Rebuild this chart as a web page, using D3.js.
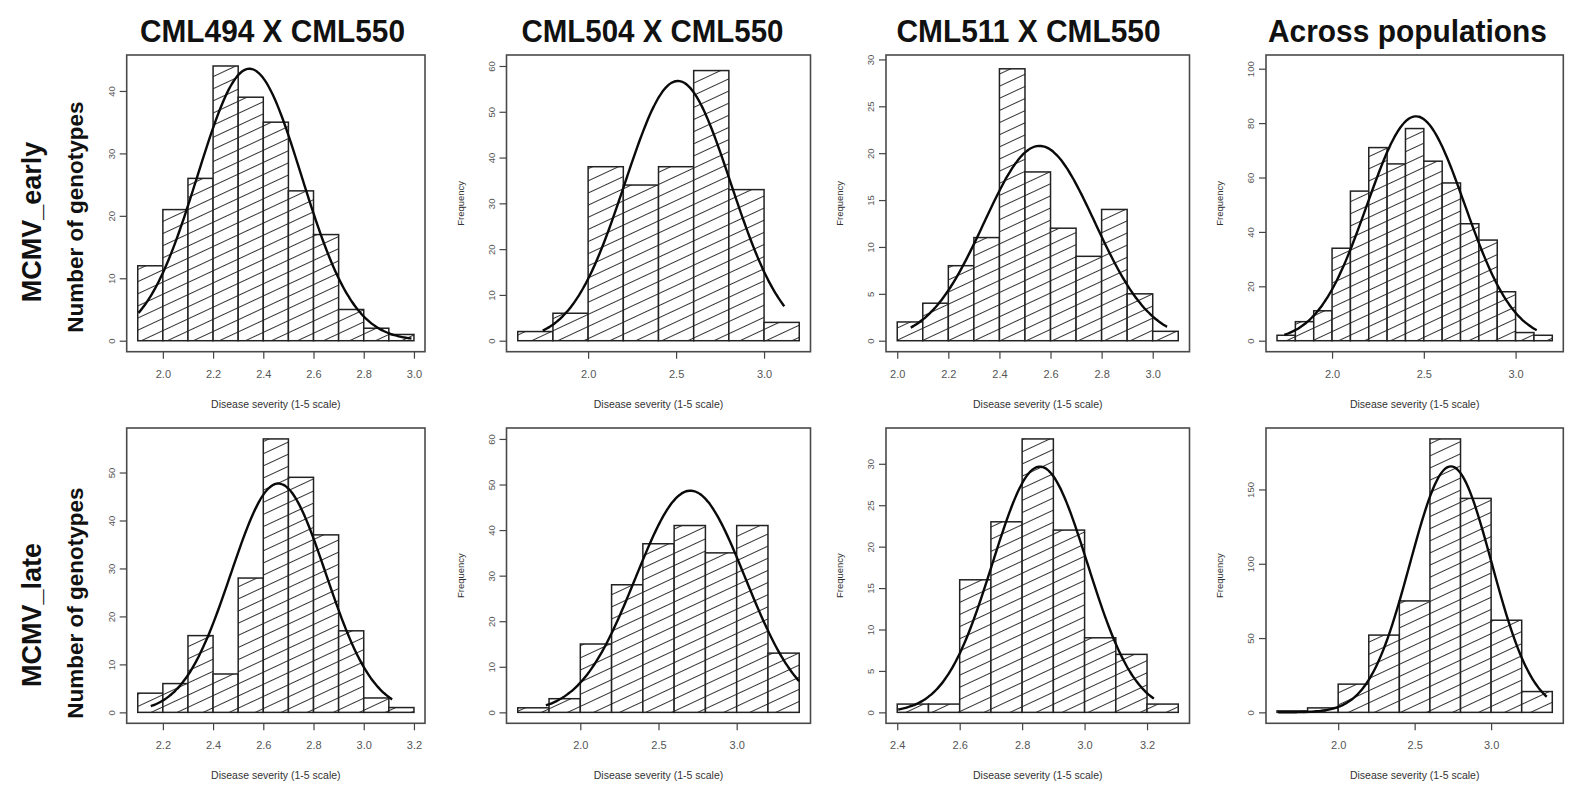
<!DOCTYPE html>
<html><head><meta charset="utf-8">
<script src="https://cdn.jsdelivr.net/npm/d3@7"></script>
<style>
body{margin:0;background:#fff}
svg{display:block}
text{font-family:"Liberation Sans",Arial,Helvetica,sans-serif}
</style>
</head><body>
<svg id="chart" width="1570" height="786"></svg>
<script>
// ---------------- DATA ----------------
const columnTitles = ["CML494 X CML550", "CML504 X CML550", "CML511 X CML550", "Across populations"];
const rowTitles = ["MCMV_early", "MCMV_late"];
const rowAxisTitle = "Number of genotypes";
const freqTitle = "Frequency";
const xAxisTitle = "Disease severity (1-5 scale)";

// histogram bins: first break and bin width per panel (row-major order)
const binStart = [1.9, 1.6, 2.0, 1.7, 2.1, 1.6, 2.4, 1.6];
const binWidth = [0.1, 0.2, 0.1, 0.1, 0.1, 0.2, 0.1, 0.2];

// counts per bin
const countsEarly494 = [12, 21, 26, 44, 39, 35, 24, 17, 5, 2, 1];
const countsEarly504 = [2, 6, 38, 34, 38, 59, 33, 4];
const countsEarly511 = [2, 4, 8, 11, 29, 18, 12, 9, 14, 5, 1];
const countsEarlyAll = [2, 7, 11, 34, 55, 71, 65, 78, 66, 58, 43, 37, 18, 3, 2];
const countsLate494  = [4, 6, 16, 8, 28, 57, 49, 37, 17, 3, 1];
const countsLate504  = [1, 3, 15, 28, 37, 41, 35, 41, 13];
const countsLate511  = [1, 1, 16, 23, 33, 22, 9, 7, 1];
const countsLateAll  = [1, 3, 19, 52, 75, 184, 144, 62, 14];

// fitted normal curve parameters
const curveMean = [2.345, 2.51, 2.557, 2.457, 2.66, 2.704, 2.857, 2.737];
const curveSd   = [0.207, 0.301, 0.217, 0.266, 0.189, 0.351, 0.152, 0.267];
const curveFrom = [1.903, 1.742, 2.053, 1.74, 2.152, 1.78, 2.403, 1.608];
const curveTo   = [2.99, 3.115, 3.056, 3.115, 3.113, 3.40, 3.222, 3.364];

// axis limits (data ranges, R style 4% padding applied later)
const xLimLo = [1.9, 1.6, 2.0, 1.7, 2.1, 1.6, 2.4, 1.6];
const xLimHi = [3.0, 3.2, 3.1, 3.2, 3.2, 3.4, 3.3, 3.4];
const yLimHi = [44, 60, 29.3, 101, 57, 60, 33, 184];

// tick values
const xTicks = [
  [2.0, 2.2, 2.4, 2.6, 2.8, 3.0], [2.0, 2.5, 3.0], [2.0, 2.2, 2.4, 2.6, 2.8, 3.0], [2.0, 2.5, 3.0],
  [2.2, 2.4, 2.6, 2.8, 3.0, 3.2], [2.0, 2.5, 3.0], [2.4, 2.6, 2.8, 3.0, 3.2], [2.0, 2.5, 3.0]
];
const yTicks = [
  [0, 10, 20, 30, 40], [0, 10, 20, 30, 40, 50, 60], [0, 5, 10, 15, 20, 25, 30], [0, 20, 40, 60, 80, 100],
  [0, 10, 20, 30, 40, 50], [0, 10, 20, 30, 40, 50, 60], [0, 5, 10, 15, 20, 25, 30], [0, 50, 100, 150]
];

const allCounts = [countsEarly494, countsEarly504, countsEarly511, countsEarlyAll,
                   countsLate494, countsLate504, countsLate511, countsLateAll];

// ---------------- LAYOUT ----------------
const colLeft  = [126.7, 506.5, 886, 1266];
const colRight = [425, 810.5, 1189.5, 1563.3];
const rowTop    = [55, 428];
const rowBottom = [351.7, 723.3];
const titleCenter = [272.5, 652.5, 1028.5, 1407.5];
const titleWidth  = [265, 262, 264, 279];
const rowLabelCenter = [222, 615];
const rowAxisCenter  = [217, 603];

const svg = d3.select("#chart");

// hatch pattern
const defs = svg.append("defs");
const pat = defs.append("pattern")
  .attr("id", "hatch")
  .attr("patternUnits", "userSpaceOnUse")
  .attr("width", 12).attr("height", 11)
  .attr("patternTransform", "rotate(-25)");
pat.append("rect").attr("width", 12).attr("height", 11).attr("fill", "#fff");
pat.append("line").attr("x1", -1).attr("x2", 13).attr("y1", 5.5).attr("y2", 5.5)
  .attr("stroke", "#2a2a2a").attr("stroke-width", 0.95);

// column titles
columnTitles.forEach((t, i) => {
  svg.append("text")
    .attr("x", titleCenter[i]).attr("y", 41.5)
    .attr("text-anchor", "middle")
    .attr("font-size", 31).attr("font-weight", "bold").attr("fill", "#111")
    .attr("textLength", titleWidth[i]).attr("lengthAdjust", "spacingAndGlyphs")
    .text(t);
});

// row titles & row axis titles
rowTitles.forEach((t, r) => {
  svg.append("text")
    .attr("transform", `translate(41,${rowLabelCenter[r]}) rotate(-90)`)
    .attr("text-anchor", "middle")
    .attr("font-size", 27).attr("font-weight", "bold").attr("fill", "#111")
    .text(t);
  svg.append("text")
    .attr("transform", `translate(83,${rowAxisCenter[r]}) rotate(-90)`)
    .attr("text-anchor", "middle")
    .attr("font-size", 22.5).attr("font-weight", "bold").attr("fill", "#111")
    .text(rowAxisTitle);
});

// panels
for (let p = 0; p < 8; p++) {
  const r = Math.floor(p / 4), c = p % 4;
  const L = colLeft[c], R = colRight[c], T = rowTop[r], B = rowBottom[r];
  const xPad = (xLimHi[p] - xLimLo[p]) * 0.04;
  const yPad = yLimHi[p] * 0.04;
  const x = d3.scaleLinear().domain([xLimLo[p] - xPad, xLimHi[p] + xPad]).range([L, R]);
  const y = d3.scaleLinear().domain([-yPad, yLimHi[p] + yPad]).range([B, T]);

  const g = svg.append("g");
  const counts = allCounts[p];
  const bins = counts.map((n, i) => ({
    x0: binStart[p] + i * binWidth[p],
    x1: binStart[p] + (i + 1) * binWidth[p],
    n: n
  }));

  // bars (hatched)
  g.selectAll("rect.bar").data(bins).enter().append("rect")
    .attr("class", "bar")
    .attr("x", d => x(d.x0))
    .attr("width", d => x(d.x1) - x(d.x0))
    .attr("y", d => y(d.n))
    .attr("height", d => y(0) - y(d.n))
    .attr("fill", "url(#hatch)")
    .attr("stroke", "#222").attr("stroke-width", 1.5);

  // fitted normal curve
  const total = d3.sum(counts);
  const scaleK = total * binWidth[p];
  const pts = d3.range(0, 121).map(i => {
    const xv = curveFrom[p] + (curveTo[p] - curveFrom[p]) * i / 120;
    const z = (xv - curveMean[p]) / curveSd[p];
    return [xv, scaleK * Math.exp(-0.5 * z * z) / (curveSd[p] * Math.sqrt(2 * Math.PI))];
  });
  g.append("path")
    .attr("d", d3.line().x(d => x(d[0])).y(d => y(d[1])).curve(d3.curveCatmullRom)(pts))
    .attr("fill", "none").attr("stroke", "#0a0a0a").attr("stroke-width", 2.4);

  // box
  g.append("rect").attr("x", L).attr("y", T).attr("width", R - L).attr("height", B - T)
    .attr("fill", "none").attr("stroke", "#4a4a4a").attr("stroke-width", 1.6);

  // x axis
  const xa = g.append("g").attr("transform", `translate(0,${B})`)
    .call(d3.axisBottom(x).tickValues(xTicks[p]).tickFormat(d3.format(".1f")).tickSize(7).tickPadding(0));
  xa.select(".domain").remove();
  xa.selectAll("line").attr("stroke", "#444").attr("stroke-width", 1.2);
  xa.selectAll("text").attr("y", 26).attr("dy", 0)
    .attr("font-size", 11).attr("fill", "#555").attr("font-family", '"Liberation Sans",Arial,sans-serif');

  // y axis
  const ya = g.append("g").attr("transform", `translate(${L},0)`)
    .call(d3.axisLeft(y).tickValues(yTicks[p]).tickFormat(d3.format("d")).tickSize(7));
  ya.select(".domain").remove();
  ya.selectAll("line").attr("stroke", "#444").attr("stroke-width", 1.2);
  ya.selectAll("text")
    .attr("transform", "rotate(-90)")
    .attr("x", 0).attr("y", -12).attr("dy", 0)
    .attr("text-anchor", "middle")
    .attr("font-size", 9.5).attr("fill", "#555").attr("font-family", '"Liberation Sans",Arial,sans-serif');

  // x axis title
  g.append("text")
    .attr("x", (L + R) / 2).attr("y", B + 56)
    .attr("text-anchor", "middle")
    .attr("font-size", 10.5).attr("fill", "#333")
    .text(xAxisTitle);

  // frequency label (non-first columns)
  if (c > 0) {
    g.append("text")
      .attr("transform", `translate(${L - 43},${(T + B) / 2}) rotate(-90)`)
      .attr("text-anchor", "middle")
      .attr("font-size", 9.5).attr("fill", "#333")
      .text(freqTitle);
  }
}
</script>
</body></html>
